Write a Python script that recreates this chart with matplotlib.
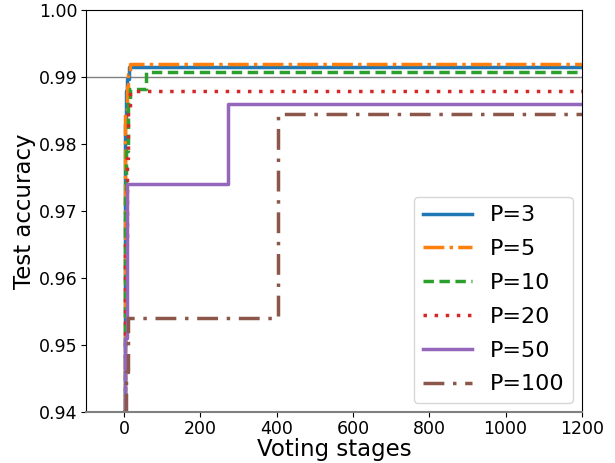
import matplotlib
matplotlib.use("Agg")
import matplotlib.pyplot as plt

# step curves: stage at which accuracy changes, and the accuracy after it
labels = ["P=3", "P=5", "P=10", "P=20", "P=50", "P=100"]

x_p3 = [0, 1, 2, 4, 8, 12, 1200]
y_p3 = [0.940, 0.976, 0.983, 0.988, 0.9898, 0.9915, 0.9915]

x_p5 = [0, 1, 3, 6, 10, 16, 1200]
y_p5 = [0.940, 0.980, 0.985, 0.9885, 0.9905, 0.9919, 0.9919]

x_p10 = [0, 2, 5, 10, 16, 58, 1200]
y_p10 = [0.940, 0.972, 0.979, 0.986, 0.9882, 0.9907, 0.9907]

x_p20 = [0, 3, 6, 10, 14, 1200]
y_p20 = [0.940, 0.965, 0.978, 0.985, 0.988, 0.988]

x_p50 = [0, 3, 8, 272, 1200]
y_p50 = [0.940, 0.951, 0.974, 0.986, 0.986]

x_p100 = [0, 4, 10, 403, 1200]
y_p100 = [0.940, 0.946, 0.954, 0.9845, 0.9845]

series = [
    (x_p3, y_p3, "#1f77b4", "-"),
    (x_p5, y_p5, "#ff7f0e", (0, (6, 1.5, 1, 1.5))),
    (x_p10, y_p10, "#2ca02c", (0, (3, 1.6))),
    (x_p20, y_p20, "#d62728", (0, (1, 2.2))),
    (x_p50, y_p50, "#9467bd", "-"),
    (x_p100, y_p100, "#8c564b", (0, (6, 2.5, 1, 2.5))),
]

fig, ax = plt.subplots(figsize=(6.15, 4.63), dpi=100)

ax.axhline(0.99, color="gray", linewidth=1.0, zorder=1)

for (xs, ys, color, ls), label in zip(series, labels):
    ax.plot(xs, ys, drawstyle="steps-post", color=color, linestyle=ls,
            linewidth=2.5, label=label, zorder=2)

ax.set_xlim(-100, 1200)
ax.set_ylim(0.94, 1.00)
ax.set_xticks([0, 200, 400, 600, 800, 1000, 1200])
ax.set_yticks([0.94, 0.95, 0.96, 0.97, 0.98, 0.99, 1.00])
ax.tick_params(labelsize=12.5, pad=2.5)
ax.spines["bottom"].set_color("gray")
ax.spines["bottom"].set_linewidth(1.5)

ax.set_xlabel("Voting stages", fontsize=16.5, labelpad=0)
ax.set_ylabel("Test accuracy", fontsize=16.5, labelpad=2)

ax.legend(loc="lower right", fontsize=16, handlelength=2.2,
          labelspacing=0.62, borderaxespad=0.4)

plt.subplots_adjust(left=0.14, right=0.946, top=0.978, bottom=0.11)
plt.savefig("out.png", dpi=100)
